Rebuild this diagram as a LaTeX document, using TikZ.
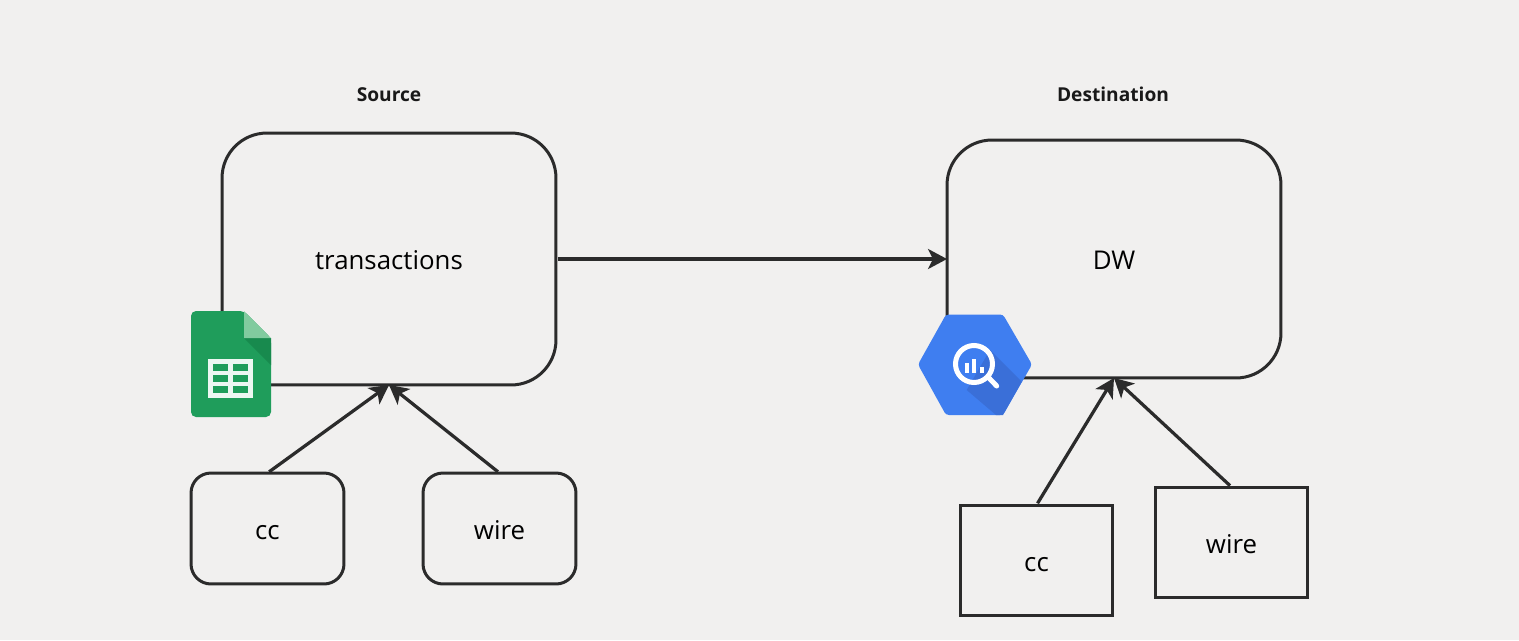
\documentclass[tikz,border=0pt]{standalone}
\usepackage{fontspec}
\setmainfont{Open Sans}
\usetikzlibrary{arrows.meta}
\definecolor{boardgray}{HTML}{F1F0EF}
\definecolor{inkgray}{HTML}{2B2B2B}
\definecolor{sheetgreen}{HTML}{1F9D5B}
\definecolor{sheetdark}{HTML}{188A4E}
\definecolor{sheetfold}{HTML}{81CB9F}
\definecolor{queryblue}{HTML}{3F7EF0}
\definecolor{querydark}{HTML}{3A6FD8}
\tikzset{
  roundbox/.style={draw=inkgray,line width=0.06cm,rounded corners=0.4cm,minimum width=3.06cm,minimum height=2.22cm,outer sep=0pt,text height=0.42cm,text depth=0pt,font=\fontsize{14.7}{18}\selectfont},
  sharpbox/.style={roundbox,rounded corners=0pt},
  bigbox/.style={roundbox,rounded corners=0.9cm,minimum width=6.68cm},
  headlabel/.style={text height=0.28cm,text depth=0pt,font=\fontsize{10.9}{13}\selectfont\bfseries,text=black!90},
  link/.style={draw=inkgray,line width=0.065cm,-{Stealth[length=0.38cm,width=0.4cm,inset=0.1cm]}},
  uplink/.style={link,shorten <=0.04cm}
}

\begin{document}
\begin{tikzpicture}[x=0.02cm,y=-0.02cm]
\fill[boardgray] (0,0) rectangle (1519,640);
\useasboundingbox (0,0) rectangle (1519,640);

% Source side
\node[headlabel] (sourcehead) at (389,94) {Source};
\node[bigbox,minimum height=5.04cm] (transactions) at (389,259) {transactions};
\node[roundbox] (ccsource) at (267.5,528.5) {cc};
\node[roundbox] (wiresource) at (499.5,528.5) {wire};

% Destination side
\node[headlabel] (desthead) at (1113,94) {Destination};
\node[bigbox,minimum height=4.76cm] (dw) at (1114,259) {DW};
\node[sharpbox] (ccdest) at (1036.5,560.5) {cc};
\node[sharpbox] (wiredest) at (1231.5,542.5) {wire};

% Connectors
\draw[link,shorten <=0.04cm] (transactions.east) -- (dw.west);
\draw[uplink] (ccsource.north) -- (transactions.south);
\draw[uplink] (wiresource.north) -- (transactions.south);
\draw[uplink] (ccdest.north) -- (dw.south);
\draw[uplink] (wiredest.north) -- (dw.south);

% Sheets icon
\fill[sheetgreen,rounded corners=0.1cm] (191,311) -- (244,311) -- (271,338) -- (271,417) -- (191,417) -- cycle;
\fill[sheetdark] (244,338) -- (271,338) -- (271,365) -- cycle;
\fill[sheetfold] (244,311) -- (271,338) -- (244,338) -- cycle;
\fill[white!92!sheetgreen] (208,359) rectangle (253,397.5);
\foreach \j in {213,233} {
  \foreach \i in {364,375,386} {
    \fill[sheetgreen] (\j,\i) rectangle ++(15,6.5);
  }
}

% BigQuery icon
\fill[queryblue,rounded corners=0.06cm] (918,364.5) -- (946,314.5) -- (1003,314.5) -- (1032,364.5) -- (1003,415) -- (946,415) -- cycle;
\fill[querydark] (990,350) -- (1021.7,381.7) -- (1003,415) -- (996,415) -- (966.7,390) -- cycle;
\draw[white,line width=0.1cm] (974,364) circle (18.5);
\draw[white,line width=0.1cm,line cap=round] (989.3,378.3) -- (996.7,386);
\foreach \j/\i in {966.7/363,974/359,982/366.7} {
  \fill[white] (\j-2,\i) rectangle (\j+2,373);
}

\end{tikzpicture}
\end{document}
